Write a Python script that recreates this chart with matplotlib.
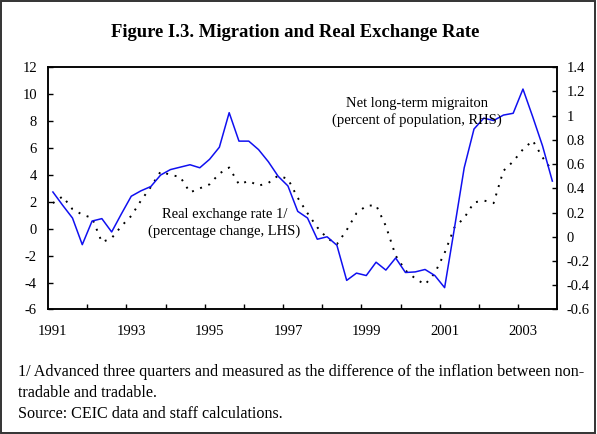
import matplotlib
matplotlib.use("Agg")
import matplotlib.pyplot as plt
from matplotlib.patches import Rectangle
from matplotlib.ticker import FixedLocator, FuncFormatter
import numpy as np

plt.rcParams["font.family"] = ["Liberation Serif", "DejaVu Serif"]
plt.rcParams["axes.unicode_minus"] = False

# quarterly, 1991Q1 .. 2003Q4
quarters = [f"{y}Q{q}" for y in range(1991, 2004) for q in range(1, 5)]
year_labels = ["1991", "1993", "1995", "1997", "1999", "2001", "2003"]

# real exchange rate 1/ (percentage change, LHS) - dotted
rer = [1.9, 2.4, 1.45, 1.05, 0.8, -1.0, -0.7, 0.2, 0.95, 2.1,
       3.1, 4.25, 4.0, 3.85, 2.7, 3.0, 3.3, 4.1, 4.55, 3.3,
       3.55, 3.2, 3.4, 3.95, 3.7, 2.3, 1.15, 0.1, -0.7, -1.15,
       -0.1, 1.15, 1.7, 1.75, 0.2, -2.0, -3.1, -3.7, -4.15, -3.3,
       -1.8, 0.1, 0.8, 1.95, 2.1, 1.9, 4.3, 5.0, 5.9, 6.55,
       5.3, 4.3]

# net long-term migration (percent of population, RHS) - blue
migration = [0.37, 0.26, 0.155, -0.065, 0.13, 0.15, 0.04, 0.19, 0.335, 0.38,
             0.415, 0.51, 0.555, 0.575, 0.595, 0.57, 0.64, 0.74, 1.025, 0.79,
             0.79, 0.72, 0.62, 0.50, 0.42, 0.21, 0.155, -0.02, 0.0, -0.07,
             -0.36, -0.30, -0.32, -0.21, -0.275, -0.175, -0.295, -0.29, -0.27, -0.32,
             -0.42, 0.07, 0.57, 0.89, 0.98, 0.96, 1.005, 1.02, 1.22, 0.99,
             0.75, 0.46]

x = np.arange(len(quarters))

fig = plt.figure(figsize=(5.97, 4.34), dpi=100)
fig.patches.append(Rectangle((0.002, 0.002), 0.995, 0.995, transform=fig.transFigure,
                             fill=False, ec="#333333", lw=1.4))

ax = fig.add_axes([0.0804, 0.287, 0.853, 0.558])
ax2 = ax.twinx()

ax.plot(x, rer, color="black", lw=1.4, linestyle=(0, (1, 3.5)))
ax2.plot(x, migration, color="#1010f0", lw=1.1)

ax.set_xlim(-0.5, len(quarters) - 0.5)
ax.set_ylim(-6, 12)
ax2.set_ylim(-0.6, 1.4)

# category style axis: labels every 8 quarters, ticks between years
ax.set_xticks(x[::8])
ax.set_xticklabels(year_labels)
ax.xaxis.set_minor_locator(FixedLocator(np.arange(3.5, len(quarters) - 1, 4)))
ax.tick_params(axis="x", which="major", length=0, pad=11, labelsize=10.5)
ax.tick_params(axis="x", which="minor", direction="in", length=3.5, width=1.0)

ax.set_yticks(np.arange(-6, 13, 2))
ax.tick_params(axis="y", direction="in", length=3.5, width=1.0, pad=8, labelsize=10.5)

ax2.set_yticks(np.arange(-0.6, 1.41, 0.2))
ax2.yaxis.set_major_formatter(FuncFormatter(lambda v, p: f"{round(v, 1) + 0:g}"))
ax2.tick_params(axis="y", direction="in", length=3.5, width=1.0, pad=7, labelsize=10.5)

for a in (ax, ax2):
    for s in a.spines.values():
        s.set_linewidth(1.1)
        s.set_color("black")

fig.text(0.494, 0.926, "Figure I.3. Migration and Real Exchange Rate", ha="center", va="center",
         fontsize=13.4, fontweight="bold")

ax.text(17.5, 0.4, "Real exchange rate 1/\n(percentage change, LHS)",
        ha="center", va="center", fontsize=10.5, linespacing=1.35)
ax2.text(37.2, 1.03, "Net long-term migraiton\n(percent of population, RHS)",
         ha="center", va="center", fontsize=10.5, linespacing=1.35)

fig.text(0.030, 0.143, "1/ Advanced three quarters and measured as the difference of the inflation between non-",
         ha="left", va="center", fontsize=11.6)
fig.text(0.030, 0.095, "tradable and tradable.", ha="left", va="center", fontsize=11.6)
fig.text(0.030, 0.046, "Source: CEIC data and staff calculations.", ha="left", va="center", fontsize=11.6)

fig.savefig("out.png", dpi=100)
